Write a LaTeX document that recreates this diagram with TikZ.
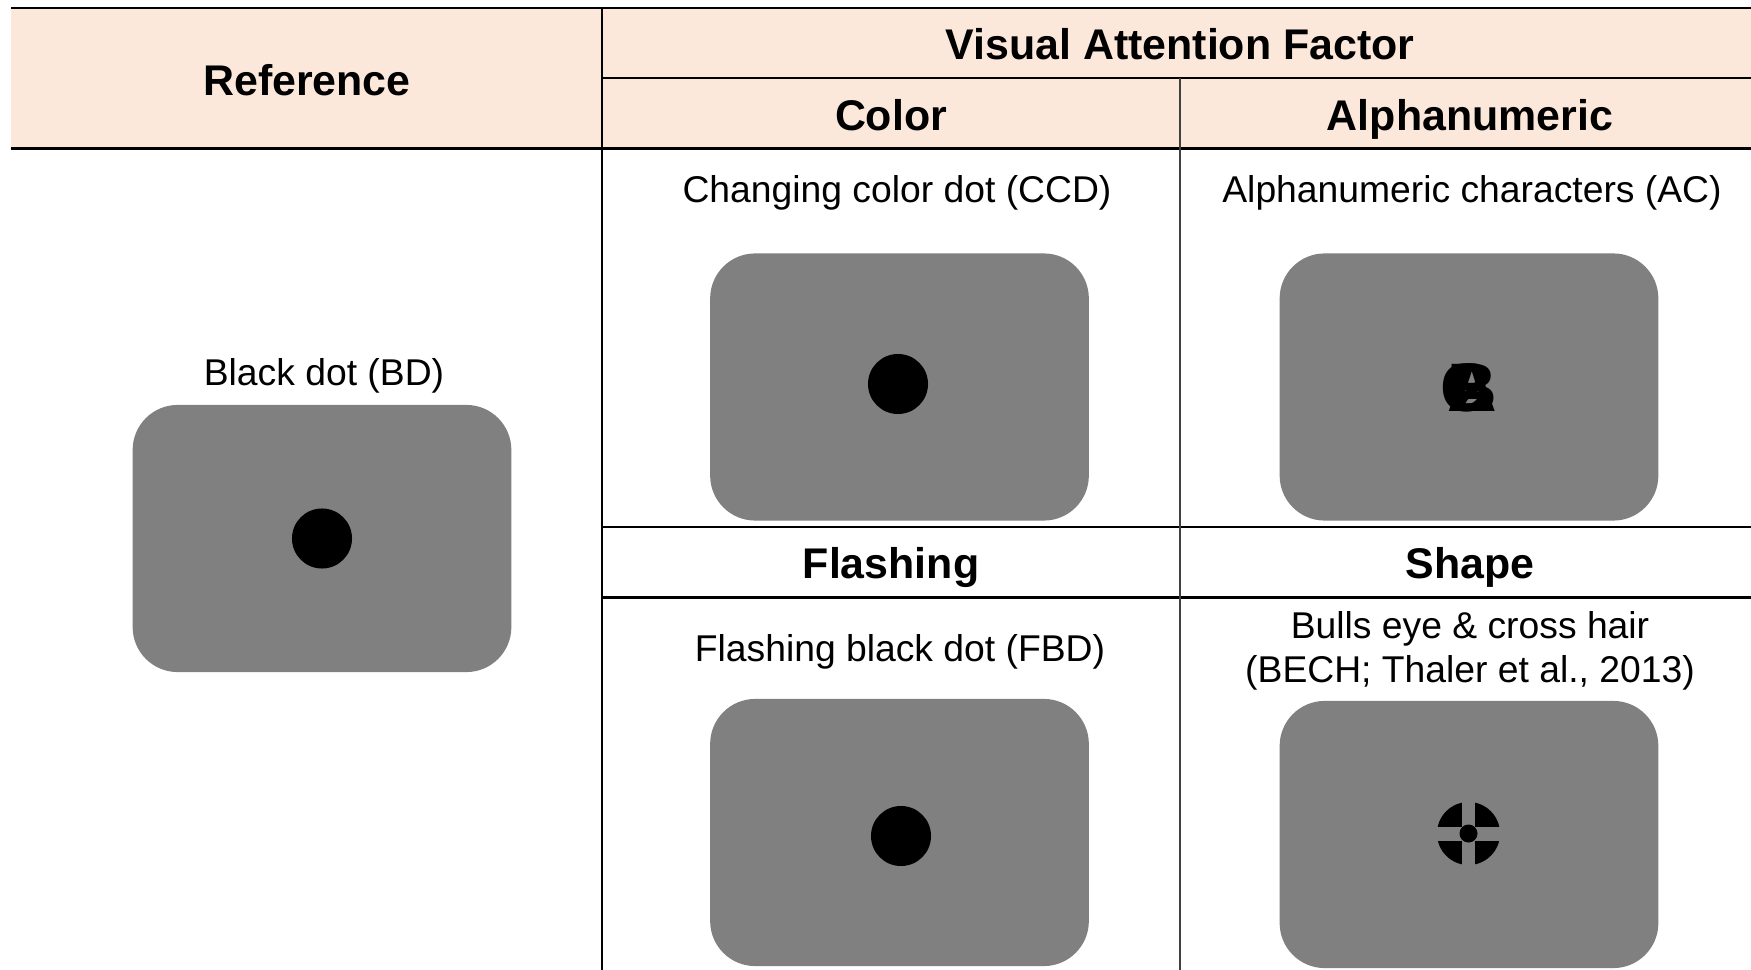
\documentclass[tikz,border=0pt]{standalone}
\usepackage{fontspec}
\setmainfont{Liberation Sans}
\usetikzlibrary{positioning}
\definecolor{headfill}{RGB}{252,232,218}
\definecolor{screengray}{RGB}{128,128,128}

\begin{document}
\begin{tikzpicture}[x=0.01cm, y=-0.01cm,
    head/.style = {font=\bfseries\fontsize{12.2}{14}\selectfont, anchor=base, inner sep=0},
    desc/.style = {font=\fontsize{10.6}{12.5}\selectfont, anchor=base, inner sep=0},
    screen/.style = {fill=screengray, rounded corners=0.45cm, minimum width=3.785cm, minimum height=2.67cm, inner sep=0},
    dot/.style = {fill=black, circle, minimum size=0.6cm, inner sep=0},
    glyph/.style = {font=\bfseries\fontsize{19.5}{19.5}\selectfont, inner sep=0},
    rule/.style = {line width=0.6pt},
    thinrule/.style = {line width=0.35pt, black!75}]
    \useasboundingbox (0,0) rectangle (1751,970);

    % header band and grid
    \fill[headfill] (11,8) rectangle (1751,148.5);
    \draw[rule] (11,8) -- (1751,8);
    \draw[rule] (602,78) -- (1751,78);
    \draw[rule] (11,148.5) -- (1751,148.5);
    \draw[rule] (602,527) -- (1751,527);
    \draw[rule] (602,597.5) -- (1751,597.5);
    \draw[rule] (602,8) -- (602,970);
    \draw[thinrule] (1180,78) -- (1180,970);

    % headings
    \node[head] (ref) at (307,96) {Reference};
    \node[head] (vaf) at (1180,60) {Visual Attention Factor};
    \node[head] (color) at (891,131) {Color};
    \node[head] (alnum) at (1470,131) {Alphanumeric};
    \node[head] (flash) at (891,578) {Flashing};
    \node[head] (shape) at (1470,578) {Shape};

    % stimuli
    \node[desc] (bdtxt) at (324,385) {Black dot (BD)};
    \node[screen] (bd) at (322,538.5) {};
    \node[dot] (bddot) at (bd) {};

    \node[desc] (ccdtxt) at (897,203) {Changing color dot (CCD)};
    \node[screen] (ccd) at (899.5,387) {};
    \node[dot] (ccddot) at (898,384) {};

    \node[desc] (actxt) at (1472,203) {Alphanumeric characters (AC)};
    \node[screen] (ac) at (1469,387) {};
    % letters flashed on top of each other
    \node[glyph] (cchar) at (1465,388) {C};
    \foreach \ch in {A,B,2}
        \node[glyph] at (1472,388) {\ch};

    \node[desc] (fbdtxt) at (900,661) {Flashing black dot (FBD)};
    \node[screen] (fbd) at (899.5,832.5) {};
    \node[dot] (fbddot) at (901,836) {};

    \node[desc] (bechtxt) at (1470,638) {Bulls eye \& cross hair};
    \node[desc] (bechref) at (1470,682) {(BECH; Thaler et al., 2013)};
    \node[screen] (bech) at (1469,834.5) {};
    % bulls eye with cross hair cut out
    \fill[black] (1468.5,833.5) circle[radius=31.5];
    \fill[screengray] (1462,800) rectangle (1475,867);
    \fill[screengray] (1435,826.5) rectangle (1502,840.5);
    \fill[black] (1468.5,833.5) circle[radius=9];
\end{tikzpicture}
\end{document}
